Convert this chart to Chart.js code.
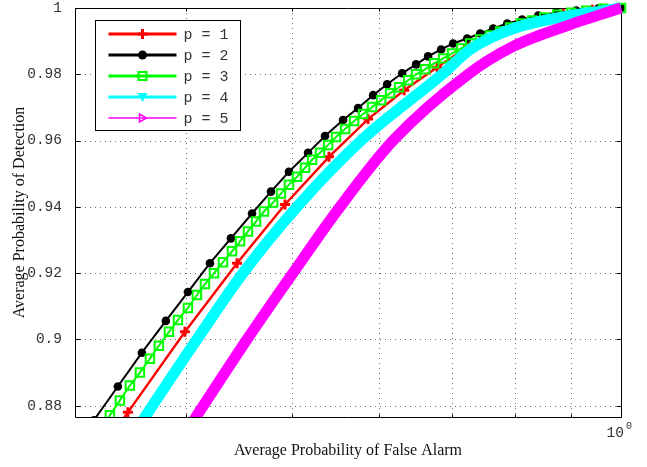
<!DOCTYPE html>
<html>
<head>
<meta charset="utf-8">
<script src="https://cdn.jsdelivr.net/npm/chart.js@4.4.0/dist/chart.umd.min.js"></script>
<style>
  html, body { margin: 0; padding: 0; background: #fff; }
  #wrap { width: 647px; height: 467px; }
</style>
</head>
<body>
<div id="wrap"><canvas id="rocChart" width="647" height="467"></canvas></div>
<script>
// 시리즈 이름
const seriesLabels = ['p = 1', 'p = 2', 'p = 3', 'p = 4', 'p = 5'];

// p = 1 (빨강, +)
const p1X = [0.3147, 0.3535, 0.3987, 0.4450, 0.4924, 0.5402, 0.5866, 0.6330, 0.6786, 0.7244, 0.7718, 0.8259, 0.8854, 0.9412, 1];
const p1Y = [0.8546, 0.8780, 0.9023, 0.9230, 0.9407, 0.9551, 0.9665, 0.9752, 0.9821, 0.9884, 0.9923, 0.9956, 0.9983, 0.9995, 1];

// p = 2 (검정, 원)
const p2X = [0.3290, 0.3461, 0.3641, 0.3830, 0.4012, 0.4203, 0.4393, 0.4593, 0.4780, 0.4965, 0.5169, 0.5357, 0.5565, 0.5744, 0.5929, 0.6107,
  0.6303, 0.6492, 0.6658, 0.6844, 0.7019, 0.7230, 0.7431, 0.7638, 0.7867, 0.8118, 0.8399, 0.8724, 0.9099, 0.9532, 1];
const p2Y = [0.8756, 0.8858, 0.8960, 0.9056, 0.9143, 0.9230, 0.9305, 0.9380, 0.9446, 0.9506, 0.9563, 0.9614, 0.9662, 0.9698, 0.9737, 0.9770,
  0.9803, 0.9830, 0.9854, 0.9875, 0.9893, 0.9908, 0.9923, 0.9938, 0.9953, 0.9965, 0.9977, 0.9986, 0.9992, 0.9998, 1];

// p = 3 (초록, 사각형)
const p3X = [0.3332, 0.3403, 0.3476, 0.3550, 0.3626, 0.3703, 0.3774, 0.3855, 0.3929, 0.4012, 0.4089, 0.4159, 0.4239, 0.4320, 0.4403, 0.4478,
  0.4554, 0.4632, 0.4710, 0.4801, 0.4882, 0.4965, 0.5050, 0.5136, 0.5213, 0.5301, 0.5392, 0.5483, 0.5589, 0.5696, 0.5805, 0.5916,
  0.6030, 0.6145, 0.6263, 0.6383, 0.6492, 0.6616, 0.6743, 0.6873, 0.7004, 0.7139, 0.7276, 0.7431, 0.7589, 0.7751, 0.7916, 0.8103,
  0.8293, 0.8506, 0.8742, 0.9004, 0.9294, 0.9633, 1];
const p3Y = [0.8726, 0.8771, 0.8816, 0.8861, 0.8900, 0.8942, 0.8981, 0.9023, 0.9059, 0.9095, 0.9134, 0.9167, 0.9200, 0.9233, 0.9266, 0.9296,
  0.9326, 0.9356, 0.9386, 0.9413, 0.9440, 0.9467, 0.9491, 0.9518, 0.9542, 0.9563, 0.9587, 0.9611, 0.9635, 0.9659, 0.9680, 0.9701,
  0.9722, 0.9743, 0.9761, 0.9782, 0.9800, 0.9815, 0.9833, 0.9848, 0.9863, 0.9878, 0.9893, 0.9905, 0.9917, 0.9929, 0.9941, 0.9953,
  0.9962, 0.9971, 0.9980, 0.9986, 0.9992, 0.9998, 1];

// p = 4 (하늘색, 촘촘한 삼각형 띠)
const p4X = [0.3550, 0.3665, 0.4089, 0.4506, 0.5050, 0.5781, 0.6858, 0.7276, 0.7967, 0.8985, 0.9512, 1];
const p4Y = [0.8696, 0.8766, 0.9000, 0.9200, 0.9400, 0.9600, 0.9800, 0.9875, 0.9938, 0.9977, 0.9989, 1];

// p = 5 (자홍색, 촘촘한 삼각형 띠)
const p5X = [0.3954, 0.4081, 0.4545, 0.5006, 0.5529, 0.6184, 0.7244, 0.7967, 0.8985, 0.9512, 1];
const p5Y = [0.8696, 0.8766, 0.9000, 0.9200, 0.9400, 0.9600, 0.9800, 0.9884, 0.9950, 0.9977, 1];

// 축 눈금
const yTicks = [0.88, 0.9, 0.92, 0.94, 0.96, 0.98, 1];
const xGridTicks = [0.4, 0.5, 0.6, 0.7, 0.8, 0.9, 1];
const xMin = 0.3162, xMax = 1;
const yMin = 0.8766, yMax = 1;

const toPoints = (xs, ys) => xs.map((x, i) => ({ x, y: ys[i] }));

// 범례용 스타일 (선 두께, 마커 종류)
const legendStyles = [
  { color: '#ff0000', width: 3, marker: 'plus' },
  { color: '#000000', width: 3, marker: 'circle' },
  { color: '#00ff00', width: 3, marker: 'square' },
  { color: '#00ffff', width: 3, marker: 'triDown' },
  { color: '#ff00ff', width: 1.5, marker: 'triRight' }
];

// 마커 그리기
function drawMarker(ctx, kind, x, y, color) {
  ctx.save();
  ctx.strokeStyle = color;
  ctx.fillStyle = color;
  ctx.beginPath();
  switch (kind) {
    case 'plus':
      ctx.lineWidth = 3;
      ctx.moveTo(x - 5, y); ctx.lineTo(x + 5, y);
      ctx.moveTo(x, y - 5); ctx.lineTo(x, y + 5);
      ctx.stroke();
      break;
    case 'circle':
      ctx.arc(x, y, 4.5, 0, Math.PI * 2);
      ctx.fill();
      break;
    case 'square':
      ctx.lineWidth = 2;
      ctx.strokeRect(x - 4, y - 4, 8, 8);
      break;
    case 'triDown':
      ctx.moveTo(x - 5, y - 4); ctx.lineTo(x + 5, y - 4); ctx.lineTo(x, y + 5);
      ctx.closePath();
      ctx.fill();
      break;
    case 'triRight':
      ctx.lineWidth = 1.5;
      ctx.moveTo(x - 3, y - 4); ctx.lineTo(x - 3, y + 4); ctx.lineTo(x + 4, y);
      ctx.closePath();
      ctx.stroke();
      break;
  }
  ctx.restore();
}

// MATLAB 스타일 격자, 테두리, 눈금
const framePlugin = {
  id: 'matlabFrame',
  beforeDatasetsDraw(chart) {
    const { ctx, chartArea: a, scales: { x, y } } = chart;
    ctx.save();
    ctx.lineWidth = 1;
    ctx.strokeStyle = '#6e6e6e';
    ctx.setLineDash([1, 4]);
    xGridTicks.forEach(v => {
      const px = Math.round(x.getPixelForValue(v)) + 0.5;
      ctx.beginPath(); ctx.moveTo(px, a.top); ctx.lineTo(px, a.bottom); ctx.stroke();
    });
    yTicks.forEach(v => {
      const py = Math.round(y.getPixelForValue(v)) + 0.5;
      ctx.beginPath(); ctx.moveTo(a.left, py); ctx.lineTo(a.right, py); ctx.stroke();
    });
    ctx.setLineDash([]);

    // 테두리
    const l = Math.round(a.left) + 0.5, r = Math.round(a.right) + 0.5;
    const t = Math.round(a.top) + 0.5, b = Math.round(a.bottom) + 0.5;
    ctx.strokeStyle = '#000';
    ctx.beginPath();
    ctx.moveTo(l, t); ctx.lineTo(r, t); ctx.lineTo(r, b); ctx.lineTo(l, b); ctx.closePath();
    ctx.stroke();

    // 눈금 표시
    ctx.beginPath();
    yTicks.forEach(v => {
      const py = Math.round(y.getPixelForValue(v)) + 0.5;
      ctx.moveTo(l, py); ctx.lineTo(l + 5, py);
      ctx.moveTo(r, py); ctx.lineTo(r - 5, py);
    });
    xGridTicks.forEach(v => {
      const px = Math.round(x.getPixelForValue(v)) + 0.5;
      ctx.moveTo(px, b); ctx.lineTo(px, b - 3);
      ctx.moveTo(px, t); ctx.lineTo(px, t + 3);
    });
    ctx.stroke();
    ctx.restore();
  },
  afterDatasetsDraw(chart) {
    const { ctx, chartArea: a, scales: { x } } = chart;
    ctx.save();

    // 범례 상자
    const bx = Math.round(a.left) + 20.5, by = Math.round(a.top) + 12.5;
    const bw = 145, bh = 110;
    ctx.fillStyle = '#fff';
    ctx.fillRect(bx, by, bw, bh);
    ctx.strokeStyle = '#000';
    ctx.lineWidth = 1;
    ctx.strokeRect(bx, by, bw, bh);

    ctx.font = '15px "Liberation Mono", monospace';
    ctx.textBaseline = 'middle';
    ctx.textAlign = 'left';
    seriesLabels.forEach((label, i) => {
      const st = legendStyles[i];
      const ry = by + 13.5 + i * 21;
      ctx.strokeStyle = st.color;
      ctx.lineWidth = st.width;
      ctx.beginPath(); ctx.moveTo(bx + 13, ry); ctx.lineTo(bx + 81, ry); ctx.stroke();
      drawMarker(ctx, st.marker, bx + 47, ry, st.color);
      ctx.fillStyle = '#333';
      ctx.fillText(label, bx + 88, ry + 1);
    });

    // x축 10^0 라벨
    const px1 = x.getPixelForValue(1);
    ctx.fillStyle = '#333';
    ctx.font = '14.5px "Liberation Mono", monospace';
    ctx.textAlign = 'right';
    ctx.fillText('10', px1 + 3, a.bottom + 16);
    ctx.font = '10px "Liberation Mono", monospace';
    ctx.textAlign = 'left';
    ctx.fillText('0', px1 + 5, a.bottom + 9);
    ctx.restore();
  }
};

const clipBox = { left: 0, top: 6, right: 8, bottom: 0 };

const datasets = [
  {
    label: seriesLabels[0],
    data: toPoints(p1X, p1Y),
    borderColor: '#ff0000',
    borderWidth: 2.4,
    pointStyle: 'cross',
    pointRadius: 5,
    pointBorderWidth: 3,
    pointBorderColor: '#ff0000',
    order: 5,
    clip: clipBox
  },
  {
    label: seriesLabels[1],
    data: toPoints(p2X, p2Y),
    borderColor: '#000000',
    borderWidth: 2,
    pointStyle: 'circle',
    pointRadius: 4.3,
    pointBorderWidth: 0,
    pointBackgroundColor: '#000000',
    order: 4,
    clip: clipBox
  },
  {
    label: seriesLabels[2],
    data: toPoints(p3X, p3Y),
    borderColor: '#00ff00',
    borderWidth: 2,
    pointStyle: 'rect',
    pointRadius: 6,
    pointBorderWidth: 2,
    pointBorderColor: '#00ff00',
    pointBackgroundColor: 'rgba(0,0,0,0)',
    order: 3,
    clip: clipBox
  },
  {
    label: seriesLabels[3],
    data: toPoints(p4X, p4Y),
    borderColor: '#00ffff',
    borderWidth: 11,
    pointRadius: 0,
    cubicInterpolationMode: 'monotone',
    order: 2,
    clip: clipBox
  },
  {
    label: seriesLabels[4],
    data: toPoints(p5X, p5Y),
    borderColor: '#ff00ff',
    borderWidth: 11,
    pointRadius: 0,
    cubicInterpolationMode: 'monotone',
    order: 1,
    clip: clipBox
  }
];

const ctx = document.getElementById('rocChart').getContext('2d');
new Chart(ctx, {
  type: 'line',
  data: { datasets },
  options: {
    responsive: false,
    animation: false,
    events: [],
    layout: { padding: { top: 5, right: 26, left: 0, bottom: 0 } },
    elements: { line: { fill: false, tension: 0 } },
    plugins: {
      legend: { display: false },
      tooltip: { enabled: false },
      title: { display: false }
    },
    scales: {
      x: {
        type: 'logarithmic',
        min: xMin,
        max: xMax,
        afterBuildTicks: s => { s.ticks = xGridTicks.map(v => ({ value: v })); },
        afterFit: s => { s.height = 50; s.paddingLeft = 0; s.paddingRight = 0; },
        grid: { display: false },
        border: { display: false },
        ticks: { display: false },
        title: {
          display: true,
          text: 'Average Probability of False Alarm',
          color: '#111',
          font: { family: 'Liberation Serif', size: 16 },
          padding: { top: 0, bottom: 7 }
        }
      },
      y: {
        type: 'linear',
        min: yMin,
        max: yMax,
        afterBuildTicks: s => { s.ticks = yTicks.map(v => ({ value: v })); },
        afterFit: s => { s.width = 75; s.paddingTop = 0; s.paddingBottom = 0; },
        grid: { display: false },
        border: { display: false },
        ticks: {
          padding: 5,
          color: '#333',
          font: { family: 'Liberation Mono', size: 14.5 },
          callback: v => String(+v.toFixed(2))
        },
        title: {
          display: true,
          text: 'Average Probability of Detection',
          color: '#111',
          font: { family: 'Liberation Serif', size: 16 },
          padding: { top: 10, bottom: 0 }
        }
      }
    }
  },
  plugins: [framePlugin]
});
</script>
</body>
</html>
